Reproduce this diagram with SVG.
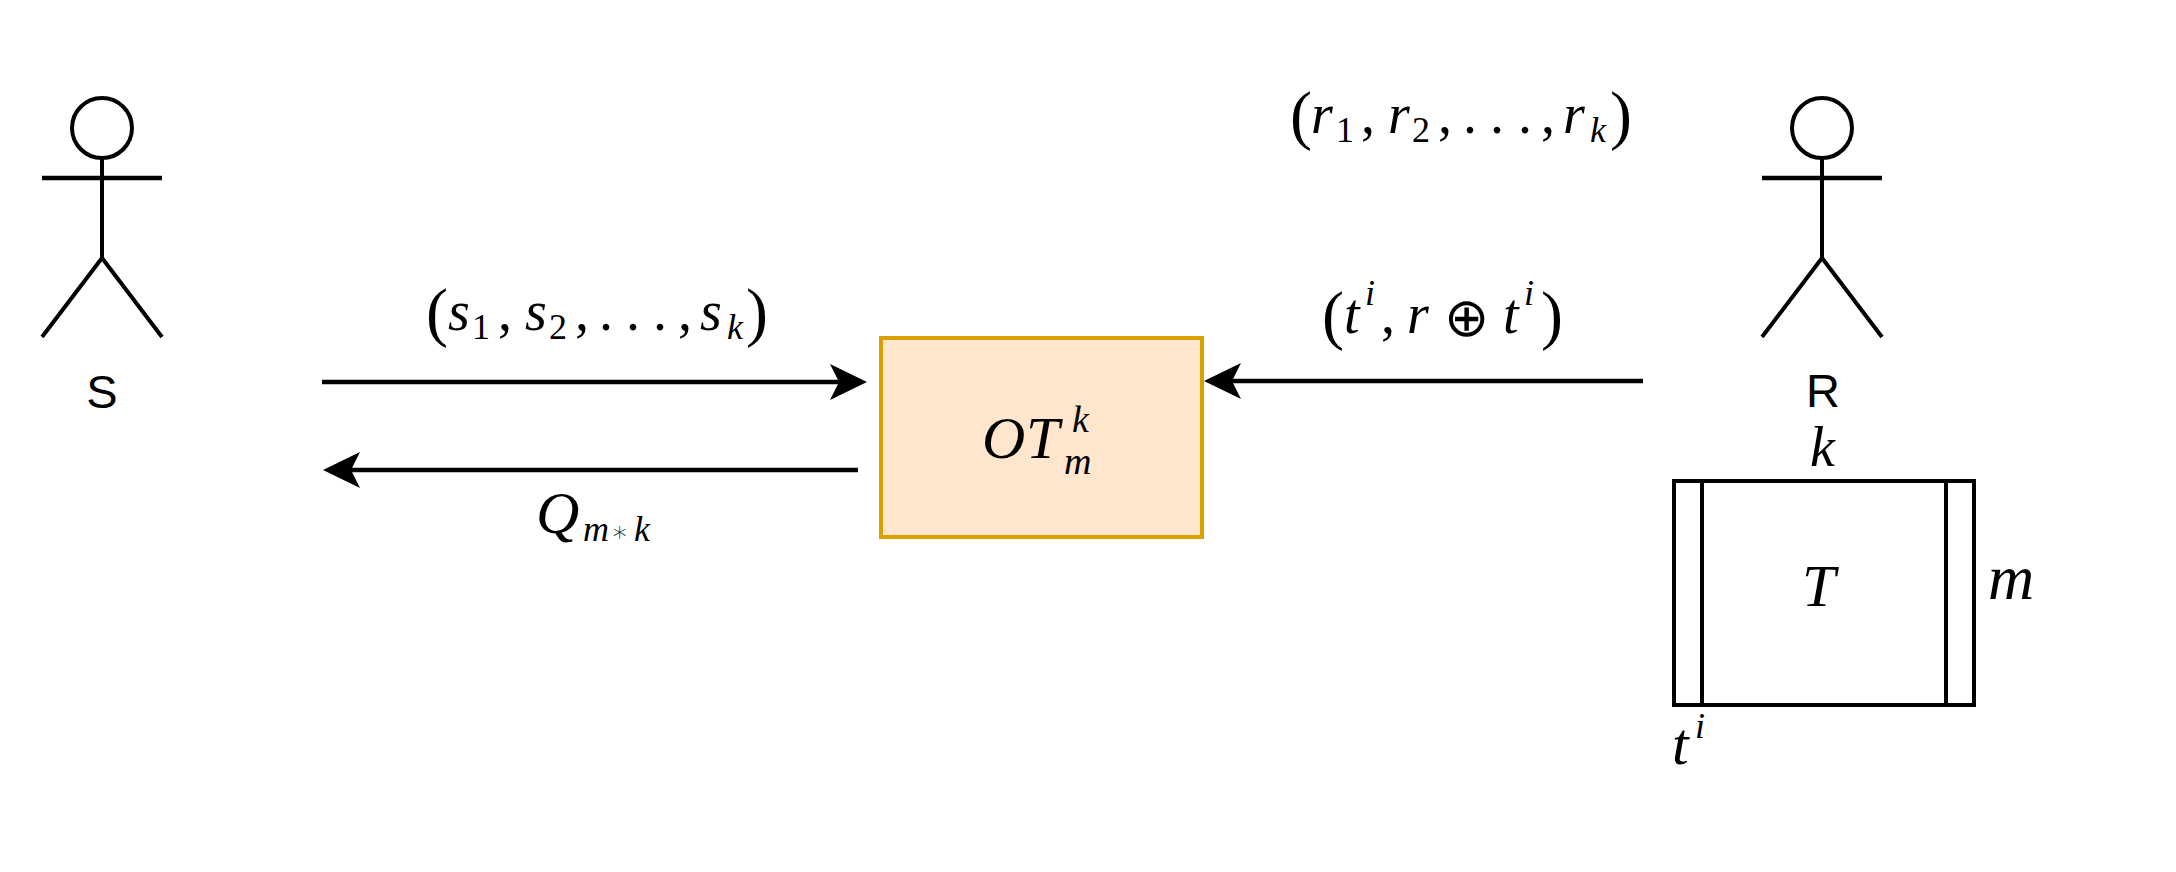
<svg xmlns="http://www.w3.org/2000/svg" width="2176" height="872" viewBox="0 0 2176 872">
  <style>
    .ln { fill: none; stroke: #000; stroke-width: 4; }
    .arm { stroke-width: 4.5; }
    .edge { fill: none; stroke: #000; stroke-width: 4.5; }
    .lbl { font-family: "Liberation Sans", Arial, sans-serif; font-size: 47px; fill: #000; text-anchor: middle; }
    .m { font-family: "Liberation Serif", "Times New Roman", serif; font-style: italic; font-size: 56px; fill: #000; }
    .up { font-style: normal; }
    .par { font-style: normal; font-size: 66px; font-weight: 300; }
    .sub { font-size: 36px; }
    .sup { font-size: 38px; }
    .big { font-size: 60px; }
    .oplus { font-family: "DejaVu Sans", sans-serif; font-style: normal; font-size: 54px; font-weight: 200; }
    .star { font-family: "DejaVu Sans", sans-serif; font-style: normal; font-size: 28px; font-weight: 200; }
  </style>
  <defs>
    <marker id="head" markerUnits="userSpaceOnUse" markerWidth="40" markerHeight="38" refX="9" refY="18" orient="auto">
      <path d="M0 0 L37 18 L0 36 L9 18 Z" fill="#000"/>
    </marker>
  </defs>
  <rect width="2176" height="872" fill="#fff"/>

  <g id="actor-s">
    <circle class="ln" cx="102" cy="128" r="30"/>
    <path class="ln" d="M102 158 V258 M102 258 L42 337 M102 258 L162 337"/>
    <path class="ln arm" d="M42 178 H162"/>
    <text class="lbl" x="102" y="408">S</text>
  </g>

  <g id="actor-r">
    <circle class="ln" cx="1822" cy="128" r="30"/>
    <path class="ln" d="M1822 158 V258 M1822 258 L1762 337 M1822 258 L1882 337"/>
    <path class="ln arm" d="M1762 178 H1882"/>
    <text class="lbl" x="1823" y="407">R</text>
  </g>

  <g id="ot-box">
    <rect x="881" y="338" width="321" height="199" fill="#ffe6cc" stroke="#dc9f00" stroke-width="4"/>
    <text class="m big"><tspan x="982" y="458">O</tspan><tspan x="1026" y="458">T</tspan><tspan class="sup" x="1072" y="432">k</tspan><tspan class="sup" x="1064" y="474">m</tspan></text>
  </g>

  <g id="matrix-t">
    <rect class="ln" x="1674" y="481" width="300" height="224" fill="#fff"/>
    <path class="ln" d="M1702 481 V705 M1946 481 V705"/>
    <text class="m big"><tspan x="1802" y="606">T</tspan></text>
  </g>

  <g id="connectors">
    <path class="edge" d="M322 382 H839" marker-end="url(#head)"/>
    <path class="edge" d="M858 470 H351" marker-end="url(#head)"/>
    <path class="edge" d="M1643 381 H1232" marker-end="url(#head)"/>
  </g>

  <g id="labels">
    <text class="m"><tspan class="par" x="426" y="334">(</tspan><tspan x="448" y="330">s</tspan><tspan class="sub up" x="472" y="339">1</tspan><tspan class="up" x="498" y="330">,</tspan><tspan x="525" y="330">s</tspan><tspan class="sub up" x="549" y="339">2</tspan><tspan class="up" x="575" y="330">,</tspan><tspan class="up" x="599" y="330">.</tspan><tspan class="up" x="626" y="330">.</tspan><tspan class="up" x="653" y="330">.</tspan><tspan class="up" x="678" y="330">,</tspan><tspan x="700" y="330">s</tspan><tspan class="sub" x="727" y="339">k</tspan><tspan class="par" x="746" y="334">)</tspan></text>

    <text class="m"><tspan class="par" x="1290" y="137">(</tspan><tspan x="1311" y="133">r</tspan><tspan class="sub up" x="1336" y="142">1</tspan><tspan class="up" x="1361" y="133">,</tspan><tspan x="1388" y="133">r</tspan><tspan class="sub up" x="1412" y="142">2</tspan><tspan class="up" x="1438" y="133">,</tspan><tspan class="up" x="1463" y="133">.</tspan><tspan class="up" x="1490" y="133">.</tspan><tspan class="up" x="1518" y="133">.</tspan><tspan class="up" x="1541" y="133">,</tspan><tspan x="1563" y="133">r</tspan><tspan class="sub" x="1590" y="142">k</tspan><tspan class="par" x="1610" y="137">)</tspan></text>

    <text class="m"><tspan class="par" x="1322" y="337">(</tspan><tspan x="1344" y="333">t</tspan><tspan class="sub" x="1365" y="305">i</tspan><tspan class="up" x="1381" y="333">,</tspan><tspan x="1407" y="333">r</tspan><tspan class="oplus" x="1444" y="336">⊕</tspan><tspan x="1503" y="333">t</tspan><tspan class="sub" x="1524" y="305">i</tspan><tspan class="par" x="1541" y="337">)</tspan></text>

    <text class="m"><tspan class="big" x="536" y="533">Q</tspan><tspan class="sub" x="583" y="541">m</tspan><tspan class="star" x="611" y="541">∗</tspan><tspan class="sub" x="634" y="541">k</tspan></text>
    <text class="m"><tspan x="1810" y="466">k</tspan></text>
    <text class="m" style="font-size:64px"><tspan x="1988" y="599">m</tspan></text>
    <text class="m big"><tspan x="1672" y="764">t</tspan><tspan class="sub" x="1695" y="738">i</tspan></text>
  </g>
</svg>
